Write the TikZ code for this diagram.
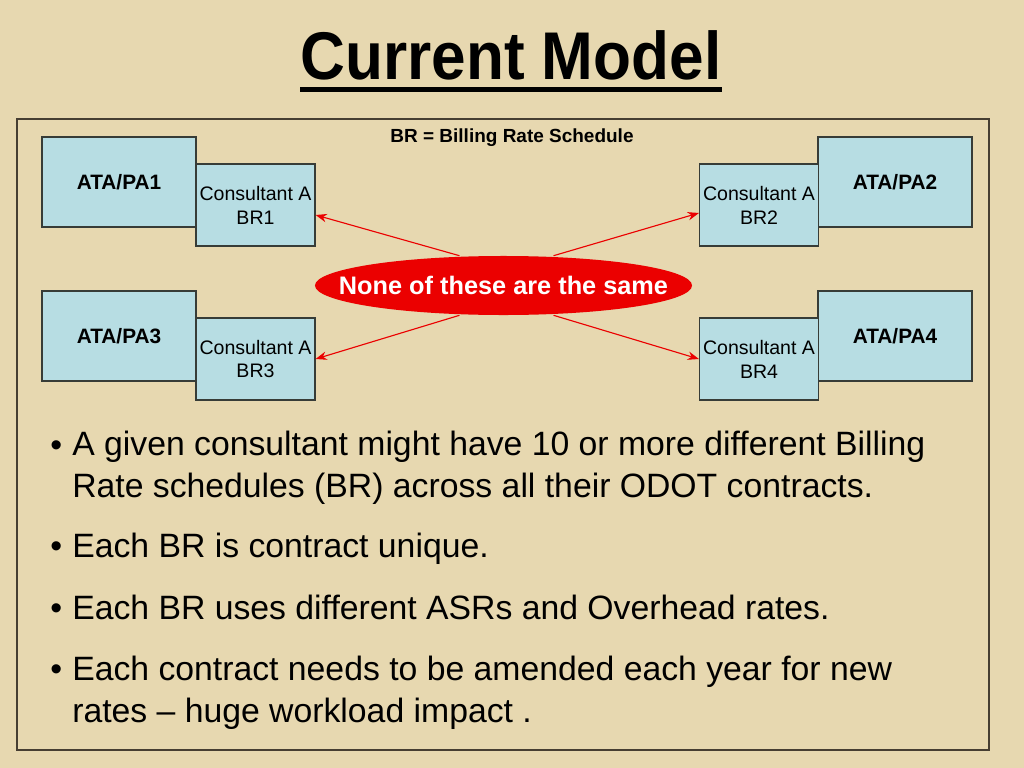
\documentclass[tikz,border=0pt]{standalone}
\usepackage{fontspec}
\setmainfont{Liberation Sans}
\usetikzlibrary{shapes.geometric,arrows.meta,positioning}

\definecolor{parchment}{RGB}{231,216,176}
\definecolor{boxblue}{RGB}{183,221,227}
\definecolor{edgegray}{RGB}{55,60,55}
\definecolor{framegray}{RGB}{70,62,50}
\definecolor{ovalred}{RGB}{235,0,0}

\begin{document}
\begin{tikzpicture}[
    x=0.025cm, y=-0.025cm,
    pabox/.style={rectangle, draw=edgegray, fill=boxblue, line width=0.8pt, minimum width=3.85cm, minimum height=2.25cm, inner sep=0pt, font=\fontsize{14.8}{17}\selectfont\bfseries},
    brbox/.style={rectangle, draw=edgegray, fill=boxblue, line width=0.8pt, minimum width=2.975cm, minimum height=2.05cm, inner sep=0pt, align=center, font=\fontsize{13.9}{17}\selectfont},
    oval/.style={ellipse, fill=ovalred, minimum width=9.425cm, minimum height=1.475cm, inner xsep=-22.5pt, inner ysep=0pt, text=white, font=\fontsize{18}{21}\selectfont\bfseries},
    arrow/.style={-{Stealth[length=8pt,width=6pt]}, draw=ovalred, line width=0.8pt},
    item/.style={anchor=base west, align=left, inner sep=0pt, font=\fontsize{24}{29.2}\selectfont},
    dot/.style={anchor=base west, inner sep=0pt, font=\fontsize{24}{29.2}\selectfont}
]
    % slide background and frame
    \fill[parchment] (0,0) rectangle (1024,768);
    \useasboundingbox (0,0) rectangle (1024,768);
    \draw[framegray, line width=0.9pt] (17,119) rectangle (989,750);

    % heading
    \node[anchor=base, inner sep=0pt, font=\fontsize{48}{56}\selectfont\bfseries] (title) at (511,80) {\scalebox{0.92}[1]{Current Model}};
    \draw[line width=3.5pt] ([yshift=-7pt]title.base west) -- ([yshift=-7pt]title.base east);
    \node[anchor=base, inner sep=0pt, font=\fontsize{13.5}{16}\selectfont\bfseries] (key) at (512,143) {BR = Billing Rate Schedule};

    % agreements and rate schedules
    \node[pabox] (pa1) at (119,182) {ATA/PA1};
    \node[brbox] (br1) at (255.5,205) {Consultant A\\BR1};
    \node[pabox] (pa3) at (119,336) {ATA/PA3};
    \node[brbox] (br3) at (255.5,359) {Consultant A\\BR3};
    \node[pabox] (pa2) at (895,182) {ATA/PA2};
    \node[brbox] (br2) at (759,205) {Consultant A\\BR2};
    \node[pabox] (pa4) at (895,336) {ATA/PA4};
    \node[brbox] (br4) at (759,359) {Consultant A\\BR4};

    \node[oval] (none) at (503.5,285.5) {None of these are the same};

    \draw[arrow] ([xshift=-1.1cm]none.north) -- ([yshift=-0.25cm]br1.east);
    \draw[arrow] ([xshift=1.25cm]none.north) -- ([yshift=-0.2cm]br2.west);
    \draw[arrow] ([xshift=-1.1cm]none.south) -- (br3.east);
    \draw[arrow] ([xshift=1.25cm]none.south) -- (br4.west);

    % bullet points (base = last line)
    \node[dot] (d1) at (50,456) {•};
    \node[item] (b1) at (72,497) {A given consultant might have 10 or more different Billing\\Rate schedules (BR) across all their ODOT contracts.};
    \node[dot] (d2) at (50,557) {•};
    \node[item] (b2) at (72,557) {Each BR is contract unique.};
    \node[dot] (d3) at (50,619) {•};
    \node[item] (b3) at (72,619) {Each BR uses different ASRs and Overhead rates.};
    \node[dot] (d4) at (50,680) {•};
    \node[item] (b4) at (72,722) {Each contract needs to be amended each year for new\\rates – huge workload impact .};
\end{tikzpicture}
\end{document}
